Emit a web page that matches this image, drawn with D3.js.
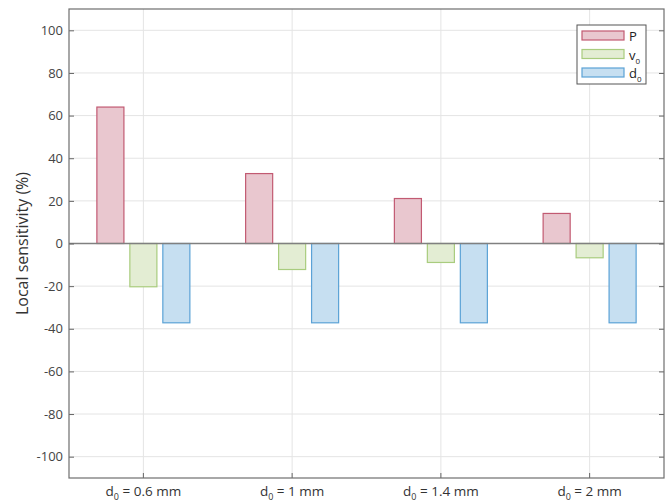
<!DOCTYPE html>
<html>
<head>
<meta charset="utf-8">
<script src="https://cdn.jsdelivr.net/npm/d3@7"></script>
<style>
  body { margin: 0; background: #fff; }
  text { font-family: "Open Sans", sans-serif; fill: #333; }
</style>
</head>
<body>
<div id="chart"></div>
<script>
// Datos
const groups = ["0.6", "1", "1.4", "2"]
const seriesNames = ["P", "v", "d"]
const valuesP = [64, 32.8, 21.1, 14.1]
const valuesV0 = [-20.3, -12.2, -8.9, -6.7]
const valuesD0 = [-37.2, -37.2, -37.2, -37.2]
const yTicks = [-100, -80, -60, -40, -20, 0, 20, 40, 60, 80, 100]

const fills = ["#e9c7cf", "#e3edd3", "#c6dff1"]
const strokes = ["#c25a72", "#a9cc7e", "#5ba2d6"]

const width = 670
const height = 504
const margins = { top: 9, bottom: 26, left: 69, right: 6 }
const innerW = width - margins.left - margins.right
const innerH = height - margins.top - margins.bottom

const svg = d3.select("#chart").append("svg").attr("width", width).attr("height", height)
const g = svg.append("g").attr("transform", `translate(${margins.left},${margins.top})`)

const x = d3.scaleBand().domain(groups).range([0, innerW]).padding(0)
const xs = d3.scaleBand().domain(seriesNames).range([-46.5, 46.5]).paddingInner(0.18).paddingOuter(0)
const y = d3.scaleLinear().domain([-110, 110]).range([innerH, 0])

// Rejilla
g.append("g").selectAll("line").data(yTicks).enter().append("line")
    .attr("x1", 0).attr("x2", innerW)
    .attr("y1", d => y(d)).attr("y2", d => y(d))
    .attr("stroke", "#e4e4e4").attr("stroke-width", 1)
g.append("g").selectAll("line").data(groups).enter().append("line")
    .attr("x1", d => x(d) + x.bandwidth() / 2).attr("x2", d => x(d) + x.bandwidth() / 2)
    .attr("y1", 0).attr("y2", innerH)
    .attr("stroke", "#e4e4e4").attr("stroke-width", 1)

// Barras
const series = [valuesP, valuesV0, valuesD0]
series.forEach((vals, si) => {
    g.append("g").selectAll("rect").data(vals).enter().append("rect")
        .attr("x", (d, i) => x(groups[i]) + x.bandwidth() / 2 + xs(seriesNames[si]))
        .attr("width", xs.bandwidth())
        .attr("y", d => y(Math.max(0, d)))
        .attr("height", d => Math.abs(y(d) - y(0)))
        .attr("fill", fills[si]).attr("stroke", strokes[si]).attr("stroke-width", 1.2)
})

// Linea del cero
g.append("line").attr("x1", 0).attr("x2", innerW).attr("y1", y(0)).attr("y2", y(0))
    .attr("stroke", "#808080").attr("stroke-width", 1.5)

// Ejes
const yAxisL = d3.axisLeft(y).tickValues(yTicks).tickSizeInner(-5).tickSizeOuter(0).tickPadding(6)
    .tickFormat(d => String(d))
const gy = g.append("g").call(yAxisL)
gy.select(".domain").remove()
gy.selectAll("line").attr("stroke", "#666")
gy.selectAll("text").attr("font-size", 13).style("fill", "#444")

const yAxisR = d3.axisRight(y).tickValues(yTicks).tickSizeInner(-5).tickSizeOuter(0).tickFormat("")
const gyr = g.append("g").attr("transform", `translate(${innerW},0)`).call(yAxisR)
gyr.select(".domain").remove()
gyr.selectAll("line").attr("stroke", "#666")

const xAxis = d3.axisBottom(x).tickSizeInner(-5).tickSizeOuter(0).tickFormat("")
const gx = g.append("g").attr("transform", `translate(0,${innerH})`).call(xAxis)
gx.select(".domain").remove()
gx.selectAll("line").attr("stroke", "#666")
gx.selectAll(".tick").append("text")
    .attr("y", 18).attr("text-anchor", "middle").attr("font-size", 13.5).style("fill", "#333")
    .each(function(d) {
        const t = d3.select(this)
        t.append("tspan").text("d")
        t.append("tspan").attr("font-size", 9).attr("dy", 3.5).text("0")
        t.append("tspan").attr("dy", -3.5).text(` = ${d} mm`)
    })

// Marco
g.append("rect").attr("width", innerW).attr("height", innerH)
    .attr("fill", "none").attr("stroke", "#6e6e6e").attr("stroke-width", 1.2)

// Etiqueta eje y
svg.append("text")
    .attr("transform", `translate(28,${margins.top + y(0)}) rotate(-90)`)
    .attr("text-anchor", "middle").attr("font-size", 16).style("fill", "#333")
    .text("Local sensitivity (%)")

// Leyenda
const legend = svg.append("g").attr("transform", "translate(577,25)")
legend.append("rect").attr("width", 69).attr("height", 59)
    .attr("fill", "#fff").attr("stroke", "#555").attr("stroke-width", 1)
seriesNames.forEach((s, i) => {
    const row = legend.append("g").attr("transform", `translate(5,${6 + i * 18.5})`)
    row.append("rect").attr("width", 42).attr("height", 9)
        .attr("fill", fills[i]).attr("stroke", strokes[i]).attr("stroke-width", 1.2)
    const t = row.append("text").attr("x", 47).attr("y", 10).attr("font-size", 13).style("fill", "#222")
    t.append("tspan").text(s)
    if (i > 0) t.append("tspan").attr("font-size", 8).attr("dy", 4).text("0")
})
</script>
</body>
</html>
